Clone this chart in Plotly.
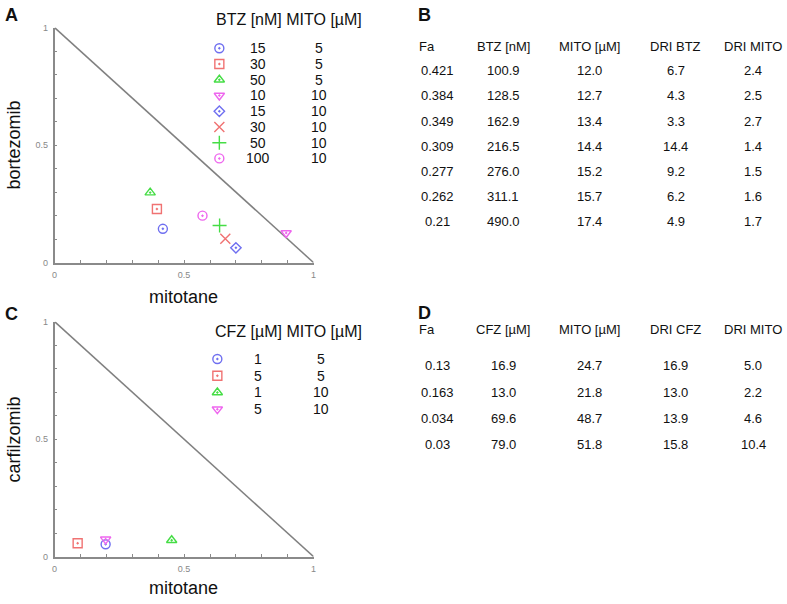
import plotly.graph_objects as go

W, H = 787, 604

# ---------------- data ----------------
# Panel A: normalized isobologram, bortezomib + mitotane
a_btz = ["15", "30", "50", "10", "15", "30", "50", "100"]
a_mito = ["5", "5", "5", "10", "10", "10", "10", "10"]
a_x = [0.418, 0.395, 0.369, 0.894, 0.700, 0.659, 0.637, 0.571]
a_y = [0.144, 0.228, 0.298, 0.126, 0.063, 0.102, 0.158, 0.200]
a_symbols = ["circle-open-dot", "square-open-dot", "triangle-up-open-dot",
             "triangle-down-open-dot", "diamond-open-dot", "x-thin-open",
             "cross-thin-open", "circle-open-dot"]
a_colors = ["#6f6ff0", "#f07272", "#45dd45", "#ee66ee",
            "#6f6ff0", "#f07272", "#45dd45", "#ee66ee"]
a_sizes = [9, 9, 9, 9, 8, 10, 10, 9]

# Panel C: carfilzomib + mitotane
c_cfz = ["1", "5", "1", "5"]
c_mito = ["5", "5", "10", "10"]
c_x = [0.197, 0.089, 0.452, 0.197]
c_y = [0.053, 0.057, 0.070, 0.074]
c_symbols = ["circle-open-dot", "square-open-dot", "triangle-up-open-dot",
             "triangle-down-open-dot"]
c_colors = ["#6f6ff0", "#f07272", "#45dd45", "#ee66ee"]
c_sizes = [9, 9, 9, 9]

diag_x = [0, 1]
diag_y = [1, 0]
tick_vals = [0, 0.1, 0.2, 0.3, 0.4, 0.5, 0.6, 0.7, 0.8, 0.9, 1]
tick_text = ["0", "", "", "", "", "0.5", "", "", "", "", "1"]

# Table B
b_header = ["Fa", "BTZ [nM]", "MITO [µM]", "DRI BTZ", "DRI MITO"]
b_fa = ["0.421", "0.384", "0.349", "0.309", "0.277", "0.262", "0.21"]
b_btz = ["100.9", "128.5", "162.9", "216.5", "276.0", "311.1", "490.0"]
b_mito = ["12.0", "12.7", "13.4", "14.4", "15.2", "15.7", "17.4"]
b_dri_btz = ["6.7", "4.3", "3.3", "14.4", "9.2", "6.2", "4.9"]
b_dri_mito = ["2.4", "2.5", "2.7", "1.4", "1.5", "1.6", "1.7"]

# Table D
d_header = ["Fa", "CFZ [µM]", "MITO [µM]", "DRI CFZ", "DRI MITO"]
d_fa = ["0.13", "0.163", "0.034", "0.03"]
d_cfz = ["16.9", "13.0", "69.6", "79.0"]
d_mito = ["24.7", "21.8", "48.7", "51.8"]
d_dri_cfz = ["16.9", "13.0", "13.9", "15.8"]
d_dri_mito = ["5.0", "2.2", "4.6", "10.4"]

FONT = "Liberation Sans, Arial, sans-serif"


def px(x):
    return x / W


def py(y):
    return 1 - y / H


fig = go.Figure()

# ---------------- scatter panels ----------------
fig.add_trace(go.Scatter(x=diag_x, y=diag_y, mode="lines",
                         line=dict(color="#808080", width=1.5),
                         xaxis="x", yaxis="y", showlegend=False, hoverinfo="skip"))
for i in range(len(a_x)):
    fig.add_trace(go.Scatter(x=[a_x[i]], y=[a_y[i]], mode="markers",
                             marker=dict(symbol=a_symbols[i], size=a_sizes[i], color=a_colors[i],
                                         line=dict(color=a_colors[i], width=1.4)),
                             xaxis="x", yaxis="y", showlegend=False))

fig.add_trace(go.Scatter(x=diag_x, y=diag_y, mode="lines",
                         line=dict(color="#808080", width=1.5),
                         xaxis="x2", yaxis="y2", showlegend=False, hoverinfo="skip"))
for i in range(len(c_x)):
    fig.add_trace(go.Scatter(x=[c_x[i]], y=[c_y[i]], mode="markers",
                             marker=dict(symbol=c_symbols[i], size=c_sizes[i], color=c_colors[i],
                                         line=dict(color=c_colors[i], width=1.4)),
                             xaxis="x2", yaxis="y2", showlegend=False))

# ---------------- custom legends (overlay pixel axis) ----------------
annotations = []
legA_top, legA_step = 44, 16
for i in range(len(a_btz)):
    yy = legA_top + legA_step * i
    fig.add_trace(go.Scatter(x=[218], y=[yy], mode="markers",
                             marker=dict(symbol=a_symbols[i], size=a_sizes[i], color=a_colors[i],
                                         line=dict(color=a_colors[i], width=1.4)),
                             xaxis="x3", yaxis="y3", showlegend=False, hoverinfo="skip"))
    annotations.append(dict(x=px(257), y=py(yy), text=a_btz[i], font=dict(size=14)))
    annotations.append(dict(x=px(318), y=py(yy), text=a_mito[i], font=dict(size=14)))
annotations.append(dict(x=px(288), y=py(15), text="BTZ [nM] MITO [µM]", font=dict(size=16)))

legC_top, legC_step = 360, 17
for i in range(len(c_cfz)):
    yy = legC_top + legC_step * i
    fig.add_trace(go.Scatter(x=[216], y=[yy], mode="markers",
                             marker=dict(symbol=c_symbols[i], size=c_sizes[i], color=c_colors[i],
                                         line=dict(color=c_colors[i], width=1.4)),
                             xaxis="x3", yaxis="y3", showlegend=False, hoverinfo="skip"))
    annotations.append(dict(x=px(257), y=py(yy), text=c_cfz[i], font=dict(size=14)))
    annotations.append(dict(x=px(320), y=py(yy), text=c_mito[i], font=dict(size=14)))
annotations.append(dict(x=px(288), y=py(332), text="CFZ [µM] MITO [µM]", font=dict(size=16)))

# axis titles
annotations.append(dict(x=px(182), y=py(297), text="mitotane", font=dict(size=18)))
annotations.append(dict(x=px(182), y=py(593), text="mitotane", font=dict(size=18)))
annotations.append(dict(x=px(11), y=py(142), text="bortezomib", textangle=-90, font=dict(size=18)))
annotations.append(dict(x=px(11), y=py(442), text="carfilzomib", textangle=-90, font=dict(size=18)))

# panel letters
for letter, (lx, ly) in zip(["A", "B", "C", "D"], [(9, 10), (425, 10), (9, 314), (425, 313)]):
    annotations.append(dict(x=px(lx), y=py(ly), text="<b>%s</b>" % letter, font=dict(size=18)))

# ---------------- tables ----------------
col_x = [438, 504, 591, 678, 756]


def add_table(header, cols, header_y, row_y0, row_step):
    for j, h in enumerate(header):
        if j == 0:
            annotations.append(dict(x=px(417), y=py(header_y), text=h, xanchor="left"))
        else:
            annotations.append(dict(x=px(col_x[j]), y=py(header_y), text=h))
    for j, col in enumerate(cols):
        for i, v in enumerate(col):
            annotations.append(dict(x=px(col_x[j]), y=py(row_y0 + row_step * i), text=v))


add_table(b_header, [b_fa, b_btz, b_mito, b_dri_btz, b_dri_mito], 42, 67, 25.5)
add_table(d_header, [d_fa, d_cfz, d_mito, d_dri_cfz, d_dri_mito], 330, 367, 26.7)

for a in annotations:
    a.setdefault("xref", "paper")
    a.setdefault("yref", "paper")
    a.setdefault("showarrow", False)
    a.setdefault("xanchor", "center")
    a.setdefault("yanchor", "middle")
    f = a.setdefault("font", {})
    f.setdefault("size", 13)
    f.setdefault("color", "#111111")
    f.setdefault("family", FONT)

axis_common = dict(range=[0, 1], showgrid=False, zeroline=False, showline=True,
                   linecolor="#8a8a8a", linewidth=1.5, ticks="inside", ticklen=3,
                   tickcolor="#8a8a8a", tickwidth=1, tickvals=tick_vals, ticktext=tick_text,
                   ticklabelstandoff=3,
                   tickfont=dict(size=9, color="#888888", family=FONT), fixedrange=True)

fig.update_layout(
    width=W, height=H, margin=dict(l=0, r=0, t=0, b=0),
    paper_bgcolor="white", plot_bgcolor="rgba(0,0,0,0)",
    showlegend=False,
    xaxis=dict(domain=[px(52), px(313)], anchor="y", **axis_common),
    yaxis=dict(domain=[py(262), py(23)], anchor="x", **axis_common),
    xaxis2=dict(domain=[px(52), px(313)], anchor="y2", **axis_common),
    yaxis2=dict(domain=[py(561), py(322)], anchor="x2", **axis_common),
    xaxis3=dict(domain=[0, 1], range=[0, W], visible=False, anchor="y3", fixedrange=True),
    yaxis3=dict(domain=[0, 1], range=[H, 0], visible=False, anchor="x3", fixedrange=True),
    annotations=annotations,
    font=dict(family=FONT),
)

fig.write_html("out.html", config=dict(displayModeBar=False),
               post_script="document.body.style.margin='0';document.body.style.overflow='hidden';")
